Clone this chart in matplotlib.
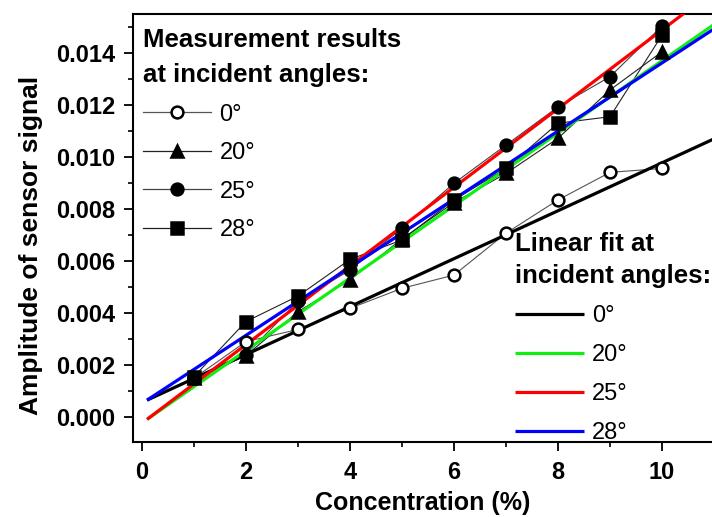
import numpy as np
import matplotlib.pyplot as plt
from matplotlib.ticker import MultipleLocator, FormatStrFormatter
from matplotlib.lines import Line2D

plt.rcParams['font.family'] = ['Liberation Sans', 'DejaVu Sans']

# measured amplitudes (x1e-3) at each concentration
conc = [1, 2, 3, 4, 5, 6, 7, 8, 9, 10]
amp_0 = [1.49, 2.90, 3.37, 4.18, 4.95, 5.46, 7.07, 8.35, 9.41, 9.56]
amp_20 = [1.50, 2.36, 4.05, 5.27, 6.85, 8.25, 9.37, 10.72, 12.58, 14.05]
amp_25 = [1.50, 2.40, 4.45, 5.65, 7.26, 8.99, 10.46, 11.93, 13.09, 15.04]
amp_28 = [1.55, 3.67, 4.65, 6.06, 6.81, 8.35, 9.56, 11.30, 11.55, 14.69]

# linear fit lines, end points (x1e-3)
fit_x = [0.1, 11.0]
fit_0 = [0.65, 10.70]
fit_20 = [-0.09, 15.10]
fit_25 = [-0.09, 16.40]
fit_28 = [0.65, 14.93]

angles = ['0°', '20°', '25°', '28°']

fig = plt.figure(figsize=(7.12, 5.17), dpi=100)
ax = fig.add_axes([133 / 712, 75 / 517, 579 / 712, 428 / 517])

s = 1e-3
fit_cols = ['black', '#11ee11', '#ff0000', '#0000ff']
fits = [fit_0, fit_20, fit_25, fit_28]
fit_handles = []
for f, c in zip(fits, fit_cols):
    h, = ax.plot(fit_x, np.array(f) * s, color=c, lw=2.3, zorder=3,
                 solid_capstyle='butt')
    fit_handles.append(h)

series = [amp_0, amp_20, amp_25, amp_28]
markers = ['o', '^', 'o', 's']
faces = ['white', 'black', 'black', 'black']
line_cols = ['#555555', '#222222', '#444444', '#222222']
meas_handles = []
for y, m, fc, lc in zip(series, markers, faces, line_cols):
    h, = ax.plot(conc, np.array(y) * s, color=lc, lw=0.8, zorder=2)
    ax.plot(conc, np.array(y) * s, ls='none', marker=m, ms=8.5,
            mfc=fc, mec='black', mew=1.8, zorder=4)
    meas_handles.append(Line2D([], [], color=lc, lw=0.9, marker=m, ms=8.5,
                               mfc=fc, mec='black', mew=1.8))

ax.set_xlim(-0.17, 10.96)
ax.set_ylim(-0.00096, 0.0155)
ax.xaxis.set_major_locator(MultipleLocator(2))
ax.xaxis.set_minor_locator(MultipleLocator(1))
ax.yaxis.set_major_locator(MultipleLocator(0.002))
ax.yaxis.set_minor_locator(MultipleLocator(0.001))
ax.yaxis.set_major_formatter(FormatStrFormatter('%.3f'))
ax.tick_params(which='major', direction='out', length=6.5, width=1.3,
               labelsize=17, pad=6)
ax.tick_params(which='minor', direction='out', length=3.5, width=1.2)
ax.tick_params(axis='x', which='major', pad=7)
for lab in ax.get_xticklabels() + ax.get_yticklabels():
    lab.set_fontweight('bold')
ax.spines['right'].set_visible(False)
for sp in ['left', 'bottom', 'top']:
    ax.spines[sp].set_linewidth(1.5)

ax.set_xlabel('Concentration (%)', fontsize=18, fontweight='bold', labelpad=5)
ax.set_ylabel('Amplitude of sensor signal', fontsize=19, fontweight='bold')
ax.yaxis.set_label_coords((43 - 133) / 579, 0.46)

title_font = {'size': 18.5, 'weight': 'bold'}
leg1 = ax.legend(meas_handles, angles,
                 title='Measurement results\nat incident angles:',
                 title_fontproperties=title_font, alignment='left',
                 loc='upper left', bbox_to_anchor=(0.017, 0.968),
                 frameon=False, fontsize=17, handlelength=2.9,
                 handletextpad=0.35, labelspacing=0.7, borderpad=0,
                 borderaxespad=0)
leg1.get_title().set_linespacing(1.6)
ax.add_artist(leg1)

leg2 = ax.legend(fit_handles, angles,
                 title='Linear fit at\nincident angles:',
                 title_fontproperties=title_font, alignment='left',
                 loc='upper left', bbox_to_anchor=(0.66, 0.49),
                 frameon=False, fontsize=17, handlelength=2.9,
                 handletextpad=0.35, labelspacing=0.72, borderpad=0,
                 borderaxespad=0)
leg2.get_title().set_linespacing(1.4)

fig.savefig('out.png', dpi=100)
